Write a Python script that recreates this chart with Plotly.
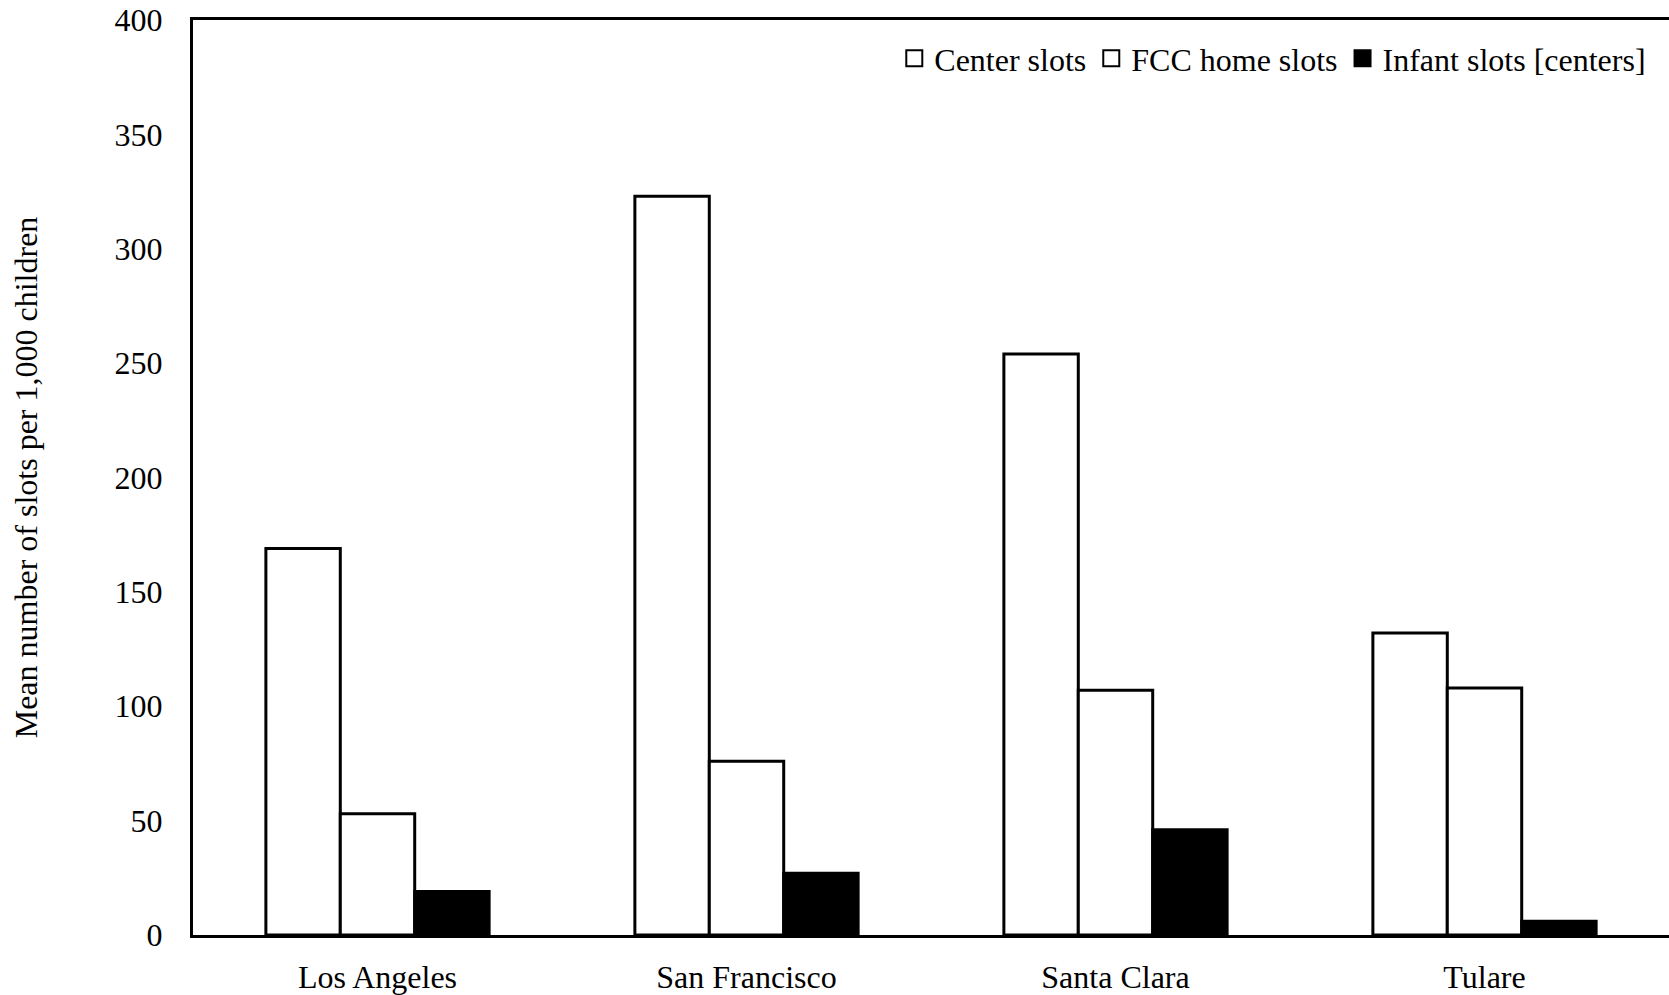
import plotly.graph_objects as go

counties = ["Los Angeles", "San Francisco", "Santa Clara", "Tulare"]
center_slots = [169, 323, 254, 132]
fcc_home_slots = [53, 76, 107, 108]
infant_slots = [19, 27, 46, 6]
y_ticks = [0, 50, 100, 150, 200, 250, 300, 350, 400]

series_names = ["Center slots", "FCC home slots", "Infant slots [centers]"]
series_values = [center_slots, fcc_home_slots, infant_slots]
series_fill = ["white", "white", "black"]

FONT = "Liberation Serif"

fig = go.Figure()
for name, vals, fill in zip(series_names, series_values, series_fill):
    fig.add_trace(go.Bar(name=name, x=counties, y=vals, showlegend=False,
                         legendgroup=name,
                         marker=dict(color=fill, line=dict(color="black", width=3))))
# legend-only entries with larger square swatches
for name, fill in zip(series_names, series_fill):
    fig.add_trace(go.Scatter(name=name, x=[None], y=[None], mode="markers",
                             legendgroup=name, showlegend=True,
                             marker=dict(symbol="square", size=16, color=fill,
                                         line=dict(color="black", width=2))))

fig.update_layout(
    width=1669, height=995,
    margin=dict(l=193, r=0, t=20, b=54),
    paper_bgcolor="white", plot_bgcolor="white",
    barmode="group", bargap=0.395, bargroupgap=0,
    font=dict(family=FONT, color="black", size=32),
    showlegend=True,
    legend=dict(orientation="h", x=0.988, xanchor="right", y=0.958, yanchor="middle",
                font=dict(family=FONT, size=32, color="black"),
                itemwidth=30, traceorder="normal", bgcolor="rgba(0,0,0,0)"),
    xaxis=dict(showline=True, linecolor="black", linewidth=3, mirror=True,
               ticks="", tickfont=dict(family=FONT, size=32), ticklabelstandoff=12,
               range=[-0.5, 3.5]),
    yaxis=dict(range=[0, 400], tickvals=y_ticks, showgrid=False, zeroline=False,
               showline=True, linecolor="black", linewidth=3, ticks="",
               tickfont=dict(family=FONT, size=32), ticklabelstandoff=21,
               title=dict(text="Mean number of slots per 1,000 children",
                          font=dict(family=FONT, size=32), standoff=68)),
)

fig.write_html("out.html")
